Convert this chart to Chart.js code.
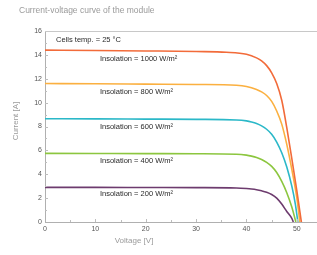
<!DOCTYPE html>
<html><head><meta charset="utf-8">
<script src="https://cdn.jsdelivr.net/npm/chart.js@4"></script>
<style>html,body{margin:0;padding:0;background:#fff}#w{width:317px;height:255px;position:relative}</style>
</head><body><div id="w"><canvas id="c"></canvas></div>
<script>
const chartTitle = "Current-voltage curve of the module";
const xTitle = "Voltage [V]";
const yTitle = "Current [A]";
const tempNote = "Cells temp. = 25 °C";
const seriesLabels = ["Insolation = 1000 W/m²","Insolation = 800 W/m²","Insolation = 600 W/m²","Insolation = 400 W/m²","Insolation = 200 W/m²"];
const seriesColors = ["#f26b3a","#fbb040","#2bb8c8","#8cc63f","#6d3b6e"];
const v1000 = [0,10,20,30,36,40,42,43,44,45,46,47,48,49,50,50.9];
const i1000 = [14.4,14.37,14.33,14.28,14.22,14.05,13.75,13.5,13.1,12.5,11.6,10.2,7.9,5.3,2.6,0];
const v800 = [0,10,20,30,38,40,42,43,44,45,46,47,48,49,50,50.6];
const i800 = [11.6,11.58,11.55,11.52,11.45,11.35,11.1,10.9,10.6,10.1,9.3,8.2,6.5,4.4,2.0,0];
const v600 = [0,10,20,30,38,40,41,42,43,44,45,46,47,48,49,49.7,50.2];
const i600 = [8.65,8.64,8.62,8.6,8.55,8.47,8.38,8.25,8.05,7.77,7.35,6.7,5.8,4.6,3.0,1.5,0];
const v400 = [0,10,20,30,38,40,41,42,43,44,45,46,47,48,49,49.8];
const i400 = [5.75,5.74,5.73,5.72,5.68,5.6,5.52,5.41,5.24,5.0,4.66,4.15,3.4,2.45,1.25,0];
const v200 = [0,10,20,30,38,40,41,42,43,44,45,46,47,48,49,49.3];
const i200 = [2.9,2.9,2.89,2.88,2.85,2.8,2.76,2.7,2.61,2.49,2.3,2.0,1.5,0.88,0.3,0];
const labelPos = [[10.9,13.7],[10.9,10.9],[10.9,7.98],[10.9,5.15],[10.9,2.32]];
const tempPos = [2.2,15.25];
const xTicks = [0,10,20,30,40,50];
const yTicks = [0,2,4,6,8,10,12,14,16];

const vs=[v1000,v800,v600,v400,v200], is=[i1000,i800,i600,i400,i200];
const datasets = vs.map((v,k)=>({
  label: seriesLabels[k],
  data: v.map((x,j)=>({x:x,y:is[k][j]})),
  borderColor: seriesColors[k], backgroundColor: seriesColors[k],
  borderWidth: 1.6, pointRadius: 0, showLine: true, fill:false,
  cubicInterpolationMode: 'monotone'
}));
const FONT = "'Liberation Sans', Arial, sans-serif";
const deco = {
  id:'deco',
  afterDraw(ch){
    const c=ch.ctx, x=ch.scales.x, y=ch.scales.y, a=ch.chartArea;
    c.save();
    c.strokeStyle='#c8c8c8'; c.lineWidth=1;
    c.beginPath(); c.moveTo(a.left, a.top+0.5); c.lineTo(a.right, a.top+0.5); c.stroke();
    c.strokeStyle='#bdbdbd';
    for(let v=1; v<16; v++){ const py=Math.round(y.getPixelForValue(v))+0.5; c.beginPath(); c.moveTo(a.left,py); c.lineTo(a.left+(v%2?2:3),py); c.stroke(); }
    for(let v=5; v<=50; v+=5){ const px=Math.round(x.getPixelForValue(v))+0.5; c.beginPath(); c.moveTo(px,a.bottom); c.lineTo(px,a.bottom-(v%10?2:3)); c.stroke(); }
    c.fillStyle='#9a9a9a'; c.font='8.5px '+FONT; c.textBaseline='middle'; c.textAlign='left';
    c.fillText(chartTitle, 19, 11);
    c.font='8px '+FONT; c.textAlign='center';
    c.fillText(xTitle, 134, 241);
    c.save(); c.translate(16,121); c.rotate(-Math.PI/2); c.fillText(yTitle,0,0); c.restore();
    c.textAlign='left';
    c.fillStyle='#2a2a2a'; c.font='7.5px '+FONT;
    c.fillText(tempNote, x.getPixelForValue(tempPos[0]), y.getPixelForValue(tempPos[1]));
    labelPos.forEach((p,k)=>c.fillText(seriesLabels[k], x.getPixelForValue(p[0]), y.getPixelForValue(p[1])));
    c.restore();
  }
};
new Chart(document.getElementById('c'), {
  type:'scatter',
  data:{datasets},
  options:{
    responsive:true, maintainAspectRatio:false, animation:false,
    layout:{padding:{top:31,right:0,left:0,bottom:0}},
    plugins:{legend:{display:false}, tooltip:{enabled:false}},
    scales:{
      x:{type:'linear', min:0, max:54,
        afterBuildTicks(s){ s.ticks = xTicks.map(v=>({value:v})); },
        afterFit(s){ s.height=33; },
        grid:{display:false, drawTicks:false},
        border:{display:true, color:'#b0b0b0', width:1},
        ticks:{color:'#555', font:{size:7, family:FONT}, padding:3, maxRotation:0, autoSkip:false},
        title:{display:false}
      },
      y:{type:'linear', min:0, max:16,
        afterBuildTicks(s){ s.ticks = yTicks.map(v=>({value:v})); },
        afterFit(s){ s.width=45; },
        grid:{display:false, drawTicks:false},
        border:{display:true, color:'#b0b0b0', width:1},
        ticks:{color:'#555', font:{size:7, family:FONT}, padding:3, autoSkip:false},
        title:{display:false}
      }
    }
  },
  plugins:[deco]
});
</script></body></html>
